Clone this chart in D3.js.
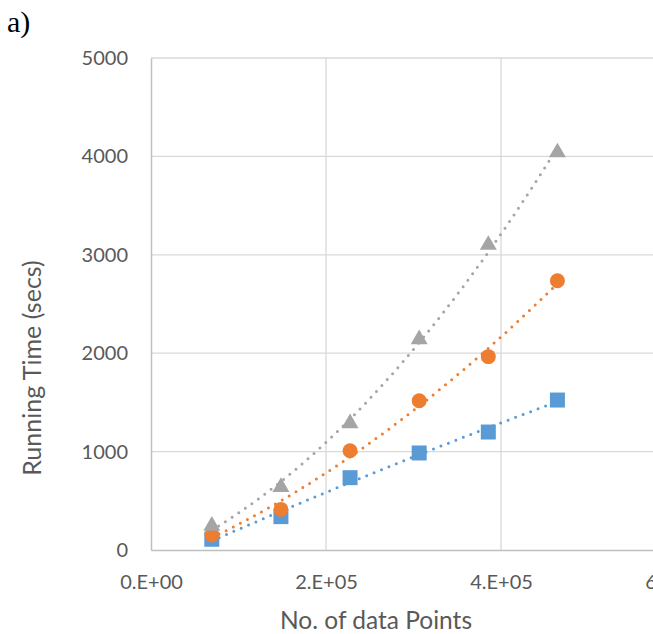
<!DOCTYPE html>
<html>
<head>
<meta charset="utf-8">
<script src="https://cdn.jsdelivr.net/npm/d3@7"></script>
<style>
  html, body { margin: 0; padding: 0; background: #fff; }
  svg { display: block; }
</style>
</head>
<body>
<svg id="chart" width="653" height="634"></svg>
<script>
// Number of data points per run
const dataPoints = [69500, 148500, 227500, 306500, 385500, 464500];

// Running time (secs) for each method
const seriesSquare   = [109, 339, 735, 986, 1199, 1524];
const seriesCircle   = [152, 413, 1009, 1517, 1965, 2737];
const seriesTriangle = [245, 640, 1287, 2141, 3100, 4040];

const xTicks = [0, 200000, 400000, 600000];
const xTickLabels = ["0.E+00", "2.E+05", "4.E+05", "6.E+05"];
const yTicks = [0, 1000, 2000, 3000, 4000, 5000];

const series = [
  { name: "square",   values: seriesSquare,   color: "#5b9bd5", symbol: d3.symbolSquare },
  { name: "circle",   values: seriesCircle,   color: "#ed7d31", symbol: d3.symbolCircle },
  { name: "triangle", values: seriesTriangle, color: "#a5a5a5", symbol: d3.symbolTriangle }
];

const svg = d3.select("#chart");
const W = 653, H = 634;
svg.append("rect").attr("width", W).attr("height", H).attr("fill", "#fff");

const plot = { left: 151, right: 676, top: 58, bottom: 550 };

const x = d3.scaleLinear().domain([0, 600000]).range([plot.left, plot.right]);
const y = d3.scaleLinear().domain([0, 5000]).range([plot.bottom, plot.top]);

const font = "Lato, 'Open Sans', sans-serif";
const textColor = "#595959";

// gridlines
const grid = svg.append("g");
grid.selectAll("line.h").data(yTicks.filter(d => d > 0)).join("line")
  .attr("x1", plot.left).attr("x2", plot.right)
  .attr("y1", d => y(d)).attr("y2", d => y(d))
  .attr("stroke", "#d9d9d9").attr("stroke-width", 1.3);
grid.selectAll("line.v").data(xTicks.filter(d => d > 0)).join("line")
  .attr("y1", plot.top).attr("y2", plot.bottom)
  .attr("x1", d => x(d)).attr("x2", d => x(d))
  .attr("stroke", "#d9d9d9").attr("stroke-width", 1.3);

// axes
const yAxis = d3.axisLeft(y).tickValues(yTicks).tickSize(0).tickPadding(23)
  .tickFormat(d3.format("d"));
const gy = svg.append("g").attr("transform", `translate(${plot.left},0)`).call(yAxis);
gy.select(".domain").attr("stroke", "#bfbfbf").attr("stroke-width", 1.5);
gy.selectAll("text").attr("font-family", font).attr("font-size", 20)
  .attr("fill", textColor);

const xAxis = d3.axisBottom(x).tickValues(xTicks).tickSize(0).tickPadding(25)
  .tickFormat((d, i) => xTickLabels[i]);
const gx = svg.append("g").attr("transform", `translate(0,${plot.bottom})`).call(xAxis);
gx.select(".domain").attr("stroke", "#bfbfbf").attr("stroke-width", 1.5);
gx.selectAll("text").attr("font-family", font).attr("font-size", 20)
  .attr("fill", textColor);

// axis titles
svg.append("text")
  .attr("x", 376).attr("y", 629)
  .attr("text-anchor", "middle")
  .attr("font-family", font).attr("font-size", 24.5).attr("fill", textColor)
  .text("No. of data Points");

svg.append("text")
  .attr("transform", `translate(41,${368}) rotate(-90)`)
  .attr("text-anchor", "middle")
  .attr("font-family", font).attr("font-size", 25).attr("fill", textColor)
  .text("Running Time (secs)");

// panel label
svg.append("text")
  .attr("x", 7).attr("y", 32)
  .attr("font-family", "'Liberation Serif', 'DejaVu Serif', serif")
  .attr("font-size", 30).attr("fill", "#000")
  .text("a)");

// second-order least-squares trendline through a series
function quadFit(xs, ys) {
  const s = 1e5;
  const u = xs.map(v => v / s);
  const S = k => d3.sum(u, v => Math.pow(v, k));
  const T = k => d3.sum(u, (v, i) => Math.pow(v, k) * ys[i]);
  const A = [[S(0), S(1), S(2)], [S(1), S(2), S(3)], [S(2), S(3), S(4)]];
  const b = [T(0), T(1), T(2)];
  const n = 3;
  for (let i = 0; i < n; i++) {
    for (let j = i + 1; j < n; j++) {
      const f = A[j][i] / A[i][i];
      for (let k = i; k < n; k++) A[j][k] -= f * A[i][k];
      b[j] -= f * b[i];
    }
  }
  const c = [0, 0, 0];
  for (let i = n - 1; i >= 0; i--) {
    let sum = b[i];
    for (let k = i + 1; k < n; k++) sum -= A[i][k] * c[k];
    c[i] = sum / A[i][i];
  }
  return xv => { const t = xv / s; return c[0] + c[1] * t + c[2] * t * t; };
}

const lineGen = d3.line().x(d => x(d[0])).y(d => y(d[1]));

series.forEach(sr => {
  const f = quadFit(dataPoints, sr.values);
  const x0 = dataPoints[0], x1 = dataPoints[dataPoints.length - 1];
  const pts = d3.range(0, 101).map(i => {
    const xv = x0 + (x1 - x0) * i / 100;
    return [xv, f(xv)];
  });
  svg.append("path")
    .datum(pts)
    .attr("d", lineGen)
    .attr("fill", "none")
    .attr("stroke", sr.color)
    .attr("stroke-width", 3)
    .attr("stroke-linecap", "round")
    .attr("stroke-dasharray", "0 8");
});

// markers
const sizes = { square: 225, circle: 175, triangle: 125 };
series.forEach(sr => {
  const sym = d3.symbol().type(sr.symbol).size(sizes[sr.name]);
  svg.append("g").selectAll("path")
    .data(dataPoints.map((d, i) => [d, sr.values[i]]))
    .join("path")
    .attr("d", sym)
    .attr("transform", d => `translate(${x(d[0])},${y(d[1])})`)
    .attr("fill", sr.color);
});
</script>
</body>
</html>
